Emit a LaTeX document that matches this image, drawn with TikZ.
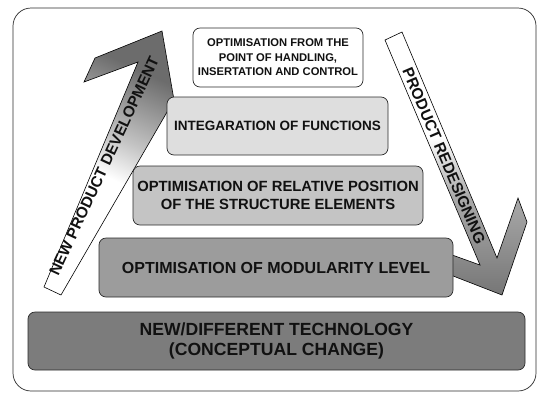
\documentclass[tikz,border=0pt]{standalone}
\usepackage{fontspec}
\setmainfont{Liberation Sans}[BoldFont={Liberation Sans Bold}]
\newfontfamily\heavy{Liberation Sans Bold}
\definecolor{boxA}{HTML}{FFFFFF}
\definecolor{boxB}{HTML}{DEDEDE}
\definecolor{boxC}{HTML}{C4C4C4}
\definecolor{boxD}{HTML}{9C9C9C}
\definecolor{boxE}{HTML}{7C7C7C}
\definecolor{edgec}{HTML}{2A2A2A}
\definecolor{txtc}{HTML}{111111}
\definecolor{lgA}{HTML}{C4C4C4}
\definecolor{lgB}{HTML}{6C6C6C}
\definecolor{rgA}{HTML}{ABABAB}
\definecolor{rgB}{HTML}{767676}
\pgfdeclareverticalshading{lshade}{100bp}{color(0bp)=(white); color(25bp)=(white); color(47bp)=(white); color(56bp)=(lgA); color(72bp)=(lgB); color(100bp)=(lgB)}
\pgfdeclareverticalshading{rshade}{100bp}{color(0bp)=(rgB); color(25bp)=(rgB); color(44bp)=(rgA); color(55bp)=(white); color(100bp)=(white)}
\tikzset{
  layer/.style={draw=edgec, line width=0.7pt, rounded corners=7pt, text=txtc, align=center, inner sep=0pt},
  bigarrow/.style={draw=black, line width=0.6pt, line join=miter},
  arrowtext/.style={text=txtc, font=\heavy\fontsize{15.5}{18}\selectfont, inner sep=0pt}
}
\begin{document}
\begin{tikzpicture}[x=1pt, y=-1pt]
\useasboundingbox (0,0) rectangle (537,392);
\draw[draw=edgec, line width=0.7pt, rounded corners=18pt] (13,8) rectangle (536,391);
% arrows
\shadedraw[bigarrow, shading=lshade, shading angle=-25]
  (44,287) -- (138,62) -- (84,82) -- (95,58) -- (162,31) -- (174,100) -- (61,295) -- cycle;
\shadedraw[bigarrow, shading=rshade]
  (385,40) -- (480,265) -- (448,253.5) -- (448,274) -- (502,295) -- (527,222) -- (518,198) -- (497,258) -- (402,32) -- cycle;
% layers
\node[layer, fill=boxA, minimum width=170pt, minimum height=59pt, font=\heavy\fontsize{11.2}{14.5}\selectfont] (b1) at (278,57.5)
  {OPTIMISATION FROM THE\\POINT OF HANDLING,\\INSERTATION AND CONTROL};
\node[layer, fill=boxB, minimum width=221pt, minimum height=58pt, font=\heavy\fontsize{13.5}{16}\selectfont] (b2) at (277.5,126)
  {INTEGARATION OF FUNCTIONS};
\node[layer, fill=boxC, minimum width=290pt, minimum height=59pt, font=\heavy\fontsize{14.8}{17.5}\selectfont] (b3) at (278,195.5)
  {OPTIMISATION OF RELATIVE POSITION\\OF THE STRUCTURE ELEMENTS};
\node[layer, fill=boxD, minimum width=354pt, minimum height=59pt, font=\heavy\fontsize{16}{19}\selectfont] (b4) at (276,267.5)
  {OPTIMISATION OF MODULARITY LEVEL};
\node[layer, fill=boxE, minimum width=497pt, minimum height=58pt, font=\heavy\fontsize{17.6}{19.5}\selectfont] (b5) at (276.5,341)
  {NEW/DIFFERENT TECHNOLOGY\\(CONCEPTUAL CHANGE)};
% arrow labels
\node[arrowtext, rotate=65] (lt) at (104,166) {NEW PRODUCT DEVELOPMENT};
\node[arrowtext, rotate=-67] (rt) at (444,156) {PRODUCT REDESIGNING};
\end{tikzpicture}
\end{document}
